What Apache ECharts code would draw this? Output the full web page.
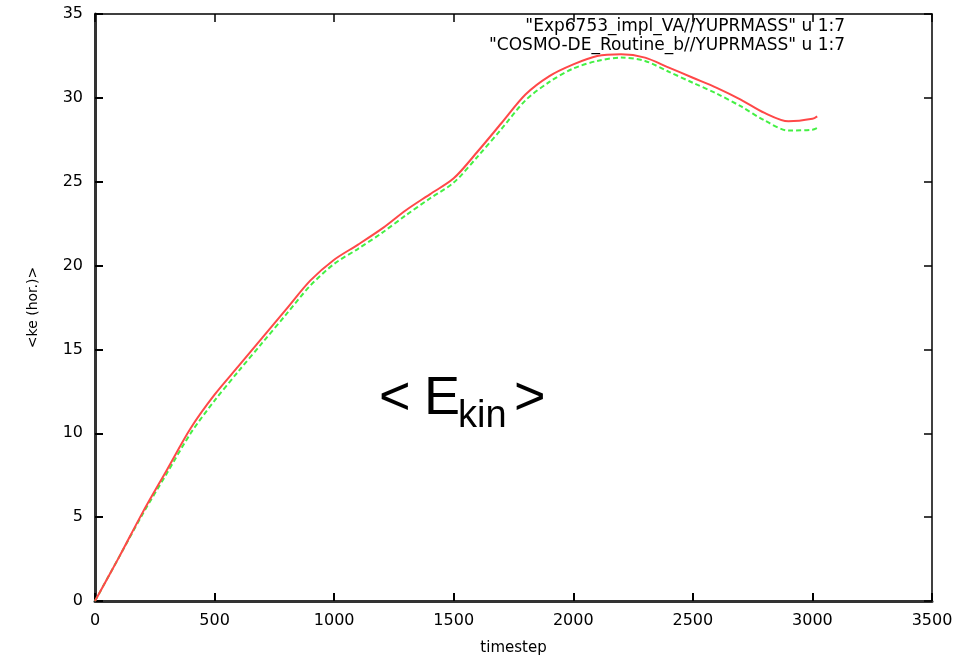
<!DOCTYPE html>
<html>
<head>
<meta charset="utf-8">
<script src="https://cdn.jsdelivr.net/npm/echarts@6/dist/echarts.min.js"></script>
<style>html,body{margin:0;padding:0;background:#fff}#c{width:972px;height:664px}</style>
</head>
<body>
<div id="c"></div>
<script>
var timesteps = [0,100,200,300,400,500,600,700,800,900,1000,1100,1200,1300,1400,1500,1600,1700,1800,1900,2000,2100,2200,2300,2400,2500,2600,2700,2800,2900,3000,3020];
var expValues = [0,2.6,5.3,7.8,10.3,12.3,14.0,15.7,17.4,19.1,20.35,21.25,22.2,23.3,24.25,25.2,26.8,28.5,30.2,31.3,32.0,32.5,32.6,32.4,31.8,31.2,30.6,29.9,29.1,28.6,28.75,28.9];
var refValues = [0,2.6,5.2,7.6,10.0,11.95,13.7,15.4,17.1,18.8,20.1,21.0,21.95,23.0,24.0,24.95,26.5,28.15,29.85,30.95,31.75,32.2,32.4,32.2,31.55,30.9,30.25,29.5,28.65,28.05,28.1,28.2];
var seriesNames = ['"Exp6753_impl_VA//YUPRMASS" u 1:7','"COSMO-DE_Routine_b//YUPRMASS" u 1:7'];
var xTicks = [0,500,1000,1500,2000,2500,3000,3500];
var yTicks = [0,5,10,15,20,25,30,35];

function pairs(xs, ys){ return xs.map(function(x,i){return [x, ys[i]];}); }
var font = '"DejaVu Sans", sans-serif';
var bigFont = '"Liberation Sans", Arial, sans-serif';
var chart = echarts.init(document.getElementById('c'));
chart.setOption({
  backgroundColor:'#fff',
  animation:false,
  grid:{left:95,right:40,top:14,bottom:63},
  xAxis:[{
    type:'value',min:xTicks[0],max:xTicks[xTicks.length-1],interval:500,
    name:'timestep',nameLocation:'middle',nameGap:40,
    nameTextStyle:{color:'#000',fontSize:15,fontFamily:font},
    axisLine:{onZero:false,lineStyle:{color:'#333',width:3}},
    axisTick:{inside:true,length:8,lineStyle:{color:'#000',width:2}},
    axisLabel:{color:'#000',fontSize:16,fontFamily:font,margin:12,formatter:function(v){return String(v);}},
    splitLine:{show:false}
  },{
    type:'value',position:'top',min:0,max:3500,interval:500,
    axisLine:{show:true,onZero:false,lineStyle:{color:'#000',width:1.5}},
    axisTick:{show:true,inside:true,length:8,lineStyle:{color:'#000',width:1.5}},
    axisLabel:{show:false},splitLine:{show:false}
  }],
  yAxis:[{
    type:'value',min:yTicks[0],max:yTicks[yTicks.length-1],interval:5,
    name:'<ke (hor.)>',nameLocation:'middle',nameGap:55,nameRotate:90,
    nameTextStyle:{color:'#000',fontSize:14,fontFamily:font},
    axisLine:{show:true,onZero:false,lineStyle:{color:'#333',width:3}},
    axisTick:{show:true,inside:true,length:8,lineStyle:{color:'#000',width:2}},
    axisLabel:{color:'#000',fontSize:16,fontFamily:font,margin:12},
    splitLine:{show:false}
  },{
    type:'value',position:'right',min:0,max:35,interval:5,
    axisLine:{show:true,onZero:false,lineStyle:{color:'#000',width:1.5}},
    axisTick:{show:true,inside:true,length:8,lineStyle:{color:'#000',width:1.5}},
    axisLabel:{show:false},splitLine:{show:false}
  }],
  series:[{
    name:seriesNames[0],type:'line',data:pairs(timesteps,expValues),
    showSymbol:false,smooth:0.3,
    lineStyle:{color:'#ff4848',width:2},z:3
  },{
    name:seriesNames[1],type:'line',data:pairs(timesteps,refValues),
    showSymbol:false,smooth:0.3,
    lineStyle:{color:'#44f044',width:2,type:[5,3]},z:2
  }],
  graphic:[
    {type:'text',x:845,y:27,style:{text:seriesNames[0],fill:'#000',font:'17px '+font,align:'right',verticalAlign:'middle'}},
    {type:'text',x:845,y:46,style:{text:seriesNames[1],fill:'#000',font:'17px '+font,align:'right',verticalAlign:'middle'}},
    {type:'text',x:379,y:399,style:{text:'<',fill:'#000',font:'54px '+bigFont,align:'left',verticalAlign:'middle'}},
    {type:'text',x:424,y:399,style:{text:'E',fill:'#000',font:'54px '+bigFont,align:'left',verticalAlign:'middle'}},
    {type:'text',x:458,y:417,style:{text:'kin',fill:'#000',font:'38px '+bigFont,align:'left',verticalAlign:'middle'}},
    {type:'text',x:514,y:399,style:{text:'>',fill:'#000',font:'54px '+bigFont,align:'left',verticalAlign:'middle'}}
  ]
});
</script>
</body>
</html>
